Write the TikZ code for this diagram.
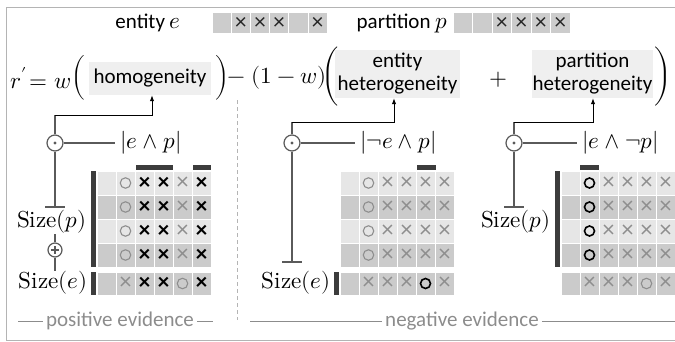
\documentclass[tikz,border=0pt]{standalone}
\usepackage{fontspec}
\usepackage{unicode-math}
\setmainfont{Carlito}
\setmathfont[Scale=1.1]{Latin Modern Math}
\usetikzlibrary{arrows.meta}

\definecolor{framegray}{HTML}{B4B4B4}
\definecolor{linegray}{HTML}{5A5A5A}
\definecolor{hdrcell}{HTML}{CCCCCC}
\definecolor{rowlight}{HTML}{E6E6E6}
\definecolor{rowdark}{HTML}{CBCBCB}
\definecolor{barcol}{HTML}{3C3C3C}
\definecolor{boxfill}{HTML}{EFEFEF}
\definecolor{evgray}{HTML}{8C8C8C}
\definecolor{lightmark}{HTML}{8E8E8E}

\begin{document}
\begin{tikzpicture}[x=1pt,y=-1pt,
  every node/.style={font=\fontsize{21}{23}\selectfont, inner sep=0pt},
  smallparen/.style={font=\fontsize{17}{17}\selectfont},
  bigparen/.style={font=\fontsize{18}{18}\selectfont},
  conn/.style={draw=linegray, line width=1.3pt},
  arr/.style={draw=black, line width=1pt, -{Latex[length=6pt,width=4.5pt]}},
  hbox/.style={fill=boxfill, align=center},
  opcirc/.style={circle, draw=linegray, line width=1.2pt, fill=white, minimum size=16pt},
  pluscirc/.style={circle, draw=linegray, line width=1.2pt, fill=white, minimum size=14pt},
  xd/.style={font=\fontsize{23}{23}\selectfont\bfseries, text=black},
  xl/.style={font=\fontsize{24}{24}\selectfont, text=lightmark},
  xh/.style={font=\fontsize{23}{23}\selectfont, text=black!85},
  ol/.style={circle, draw=lightmark, line width=1.1pt, minimum size=10.5pt},
  od/.style={circle, draw=black, line width=1.6pt, minimum size=10pt},
  evtext/.style={text=evgray},
  evline/.style={draw=evgray, line width=0.9pt},
  sepline/.style={draw=framegray, line width=1pt, dash pattern=on 4pt off 3pt},
  bar/.style={fill=barcol}]
\useasboundingbox (0,0) rectangle (675,341);

% outer frame (open on the right)
\draw[framegray, line width=1pt] (690,7) -- (6,7) -- (6,340) -- (690,340);

% ---- header: entity and partition rows
\node (entlbl) at (148,23) {entity $e$};
\foreach \i in {0,...,5}
  \fill[hdrcell] (212.5+\i*19.2,13) rectangle ++(18.2,20);
\foreach \i in {1,2,3,5}
  \node[xh] (ex\i) at (221.6+\i*19.2,23) {×};

\node (partlbl) at (402,23) {partition $p$};
\foreach \i in {0,...,5}
  \fill[hdrcell] (453.5+\i*19.5,13) rectangle ++(18.5,20);
\foreach \i in {2,3,4,5}
  \node[xh] (px\i) at (462.75+\i*19.5,23) {×};

% ---- the score formula
\node[anchor=east] (lhs) at (71,78) {$r'\!= w$};
\node[smallparen] (lp1) at (78,78) {$\bigg($};
\node[hbox, minimum width=122pt, minimum height=33pt] (homo) at (150,78.5) {homogeneity};
\node[smallparen] (rp1) at (222,78) {$\bigg)$};
\node (mid) at (277,78) {$-\;(1-w)$};
\node[bigparen] (lp2) at (330,77) {$\Bigg($};
\node[hbox, minimum width=125pt, minimum height=48pt] (enthet) at (397.5,74) {entity\\heterogeneity};
\node (plus) at (498,80) {$+$};
\node[hbox, minimum width=121pt, minimum height=48pt] (parthet) at (592.5,74) {partition\\heterogeneity};
\node[bigparen] (rp2) at (663,77) {$\Bigg)$};

% separator between the two kinds of evidence
\coordinate (sepT) at (237,100);
\coordinate (sepB) at (237,320);
\draw[sepline] (sepT) -- (sepB);

% ---- evidence matrices
% #1 = left x of the grid
\newcommand\evgrid[1]{%
  \foreach \y/\c in {171/rowlight,195/rowdark,219/rowlight,243/rowdark}
    \foreach \k in {0,...,5}
      \fill[\c] (#1+\k*19+0.5,\y+0.5) rectangle ++(18,23);
  \foreach \k in {0,...,5}
    \fill[rowdark] (#1+\k*19+0.5,272.5) rectangle ++(18,22.5);
}

% positive evidence grid
\evgrid{97}
\foreach \y [count=\r] in {183,207,231,255}{
  \node[ol] (pa\r) at (125.5,\y) {};
  \node[xd] (pb\r) at (144.5,\y) {×};
  \node[xd] (pc\r) at (163.5,\y) {×};
  \node[xl] (pd\r) at (182.5,\y) {×};
  \node[xd] (pe\r) at (201.5,\y) {×};
}
\node[xl] (pa5) at (125.5,283.5) {×};
\node[xd] (pb5) at (144.5,283.5) {×};
\node[xd] (pc5) at (163.5,283.5) {×};
\node[ol] (pd5) at (182.5,283.5) {};
\node[xd] (pe5) at (201.5,283.5) {×};
\fill[bar] (90.5,171) rectangle (95.5,267);
\fill[bar] (90.5,272) rectangle (95.5,295);
\fill[bar] (135.5,165) rectangle (172.5,169.5);
\fill[bar] (192.5,165) rectangle (210.5,169.5);

% negative evidence grid: entity side
\evgrid{340}
\foreach \y [count=\r] in {183,207,231,255}{
  \node[ol] (ma\r) at (368.5,\y) {};
  \node[xl] (mb\r) at (387.5,\y) {×};
  \node[xl] (mc\r) at (406.5,\y) {×};
  \node[xl] (md\r) at (425.5,\y) {×};
  \node[xl] (me\r) at (444.5,\y) {×};
}
\node[xl] (ma5) at (368.5,283.5) {×};
\node[xl] (mb5) at (387.5,283.5) {×};
\node[xl] (mc5) at (406.5,283.5) {×};
\node[od] (md5) at (425.5,283.5) {};
\node[xl] (me5) at (444.5,283.5) {×};
\fill[bar] (333.5,272) rectangle (338.5,295);
\fill[bar] (416.5,165) rectangle (435.5,169.5);

% negative evidence grid: partition side
\evgrid{561}
\foreach \y [count=\r] in {183,207,231,255}{
  \node[od] (ra\r) at (589.5,\y) {};
  \node[xl] (rb\r) at (608.5,\y) {×};
  \node[xl] (rc\r) at (627.5,\y) {×};
  \node[xl] (rd\r) at (646.5,\y) {×};
  \node[xl] (re\r) at (665.5,\y) {×};
}
\node[xl] (ra5) at (589.5,283.5) {×};
\node[xl] (rb5) at (608.5,283.5) {×};
\node[xl] (rc5) at (627.5,283.5) {×};
\node[ol] (rd5) at (646.5,283.5) {};
\node[xl] (re5) at (665.5,283.5) {×};
\fill[bar] (554.5,171) rectangle (559.5,267);
\fill[bar] (579.5,165) rectangle (598.5,169.5);

% ---- positive evidence: homogeneity
\node[opcirc] (odotP) at (55,143) {};
\fill[linegray] (odotP.center) circle (1.7pt);
\coordinate (cP) at (55,115);
\draw[conn] (odotP) -- (cP);
\draw[arr] (cP) -| ([xshift=2pt]homo.south);
\node[anchor=west] (andP) at (120,143) {$|e \wedge p|$};
\draw[conn, shorten >=5pt] (odotP) -- (andP);
\coordinate (tP) at (55,207);
\draw[conn] (odotP) -- (tP);
\draw[conn] ([xshift=-10pt]tP) -- ([xshift=10pt]tP);
\node (sizeP1) at (52,222) {$\symup{Size}(p)$};
\node[pluscirc] (oplusP) at (55,250) {};
\draw[linegray, line width=1.1pt] ([yshift=-4pt]oplusP.center) -- ([yshift=4pt]oplusP.center)
  ([xshift=-4pt]oplusP.center) -- ([xshift=4pt]oplusP.center);
\node (sizeE1) at (53,283) {$\symup{Size}(e)$};
\draw[conn] (oplusP) -- (oplusP |- sizeP1.south);
\draw[conn] (oplusP) -- (oplusP |- sizeE1.north);

% ---- negative evidence: entity heterogeneity
\node[opcirc] (odotM) at (292,143) {};
\fill[linegray] (odotM.center) circle (1.7pt);
\coordinate (cM) at (292,122);
\draw[conn] (odotM) -- (cM);
\draw[arr] (cM) -| ([xshift=-3.5pt]enthet.south);
\node[anchor=west] (andM) at (360,143) {$|\neg e \wedge p|$};
\draw[conn, shorten >=5pt] (odotM) -- (andM);
\coordinate (tM) at (292,262);
\draw[conn] (odotM) -- (tM);
\draw[conn] ([xshift=-10pt]tM) -- ([xshift=10pt]tM);
\node (sizeE2) at (296,283) {$\symup{Size}(e)$};

% ---- negative evidence: partition heterogeneity
\node[opcirc] (odotR) at (514,143) {};
\fill[linegray] (odotR.center) circle (1.7pt);
\coordinate (cR) at (514,122);
\draw[conn] (odotR) -- (cR);
\draw[arr] (cR) -| ([xshift=0.5pt]parthet.south);
\node[anchor=west] (andR) at (582,143) {$|e \wedge \neg p|$};
\draw[conn, shorten >=5pt] (odotR) -- (andR);
\coordinate (tR) at (514,207);
\draw[conn] (odotR) -- (tR);
\draw[conn] ([xshift=-10pt]tR) -- ([xshift=10pt]tR);
\node (sizeP2) at (516,222) {$\symup{Size}(p)$};

% ---- bottom captions
\node[evtext] (posev) at (120,321) {positive evidence};
\coordinate (posL) at (18,321);
\coordinate (posR) at (213,321);
\draw[evline] (posL) -- ([xshift=-3pt]posev.west);
\draw[evline] ([xshift=3pt]posev.east) -- (posR);
\node[evtext] (negev) at (462,321) {negative evidence};
\coordinate (negL) at (250,321);
\coordinate (negR) at (675,321);
\draw[evline] (negL) -- ([xshift=-3pt]negev.west);
\draw[evline] ([xshift=3pt]negev.east) -- (negR);
\end{tikzpicture}
\end{document}
